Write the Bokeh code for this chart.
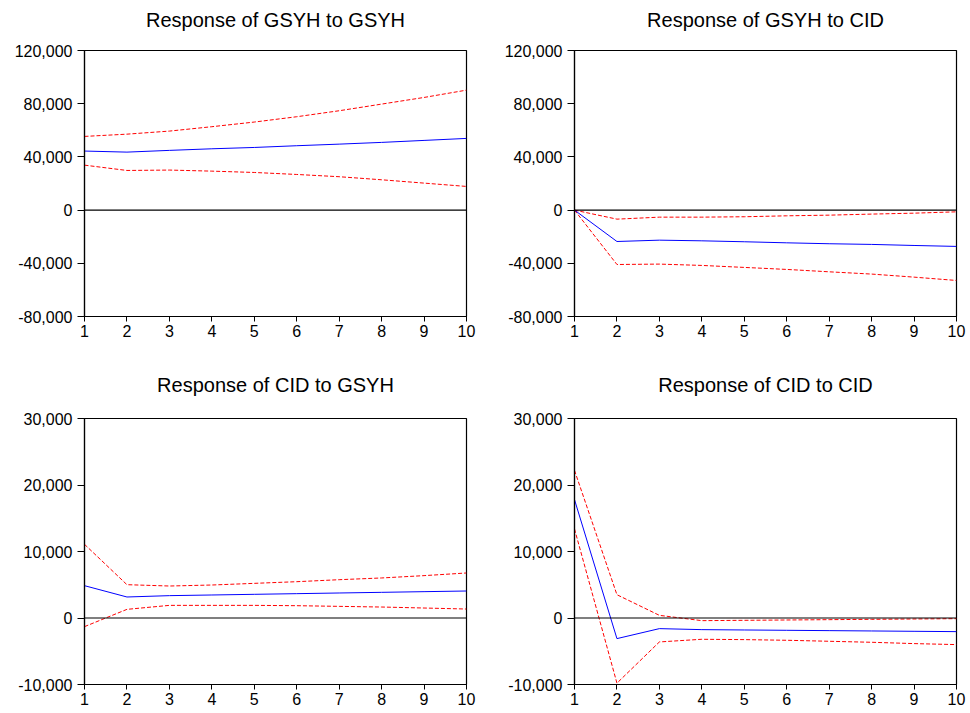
from bokeh.plotting import figure
from bokeh.layouts import column, row
from bokeh.models import Range1d, FixedTicker, NumeralTickFormatter, Span, Title
from bokeh.embed import file_html
from bokeh.resources import INLINE

periods = [1, 2, 3, 4, 5, 6, 7, 8, 9, 10]

# Response of GSYH to GSYH
gg_resp = [44400, 43600, 44900, 46100, 47100, 48400, 49600, 50900, 52400, 53900]
gg_up = [55400, 57100, 59400, 62700, 66200, 70200, 74700, 79700, 84700, 90200]
gg_lo = [33800, 29800, 30100, 29300, 28300, 26800, 25100, 22800, 20300, 17800]

# Response of GSYH to CID
gc_resp = [0, -23600, -22600, -23100, -23800, -24600, -25300, -25800, -26600, -27300]
gc_up = [0, -6800, -5300, -5300, -5000, -4300, -3800, -3000, -2300, -1300]
gc_lo = [0, -40900, -40600, -41600, -43100, -44600, -46400, -48100, -50400, -52900]

# Response of CID to GSYH
cg_resp = [4860, 3160, 3360, 3460, 3560, 3660, 3760, 3860, 3960, 4060]
cg_up = [11080, 5010, 4810, 4960, 5210, 5460, 5760, 6020, 6370, 6770]
cg_lo = [-1300, 1300, 1900, 1900, 1900, 1850, 1750, 1650, 1500, 1350]

# Response of CID to CID
cc_resp = [17800, -3100, -1600, -1750, -1800, -1850, -1900, -1950, -2000, -2050]
cc_up = [22200, 3500, 400, -400, -350, -300, -250, -200, -150, -100]
cc_lo = [13400, -9800, -3600, -3200, -3250, -3350, -3500, -3650, -3850, -4000]

titles = ["Response of GSYH to GSYH", "Response of GSYH to CID",
          "Response of CID to GSYH", "Response of CID to CID"]
ticks_top = [-80000, -40000, 0, 40000, 80000, 120000]
ticks_bot = [-10000, 0, 10000, 20000, 30000]

FONT = "Liberation Sans"


def panel(title, resp, up, lo, yr, yticks, w, h, left, right, top, bottom, gap):
    p = figure(width=w, height=h, output_backend="svg", toolbar_location=None,
               x_range=Range1d(1, 10), y_range=Range1d(*yr),
               min_border_left=left, min_border_right=right,
               min_border_top=top, min_border_bottom=bottom)
    # spacer between frame and title
    p.add_layout(Title(text=" ", text_font_size="1px", standoff=gap), "above")
    p.add_layout(Title(text=title, align="center", text_font=FONT,
                       text_font_size="20px", text_font_style="normal",
                       text_color="black", standoff=12), "above")
    p.xgrid.visible = False
    p.ygrid.visible = False
    p.outline_line_color = "black"
    p.outline_line_width = 1.2
    p.outline_line_alpha = 1
    p.background_fill_color = "white"
    p.border_fill_color = "white"

    p.xaxis.ticker = FixedTicker(ticks=periods)
    p.yaxis.ticker = FixedTicker(ticks=yticks)
    p.yaxis.formatter = NumeralTickFormatter(format="0,0")
    for ax in (p.xaxis, p.yaxis):
        ax.axis_line_color = "black"
        ax.axis_line_width = 1.2
        ax.major_tick_line_color = "black"
        ax.minor_tick_line_color = None
        ax.major_tick_in = 0
        ax.major_label_text_font = FONT
        ax.major_label_text_font_size = "16px"
        ax.major_label_text_color = "black"
    p.xaxis.major_tick_out = 5
    p.xaxis.major_label_standoff = 3
    p.yaxis.major_tick_out = 7
    p.yaxis.major_label_standoff = 5

    p.add_layout(Span(location=0, dimension="width", line_color="black", line_width=1.2))
    p.line(periods, up, line_color="#FF0000", line_width=1, line_dash="4 2")
    p.line(periods, lo, line_color="#FF0000", line_width=1, line_dash="4 2")
    p.line(periods, resp, line_color="#0000FF", line_width=1)
    return p


p1 = panel(titles[0], gg_resp, gg_up, gg_lo, (-80000, 120000), ticks_top, 485, 350, 84, 19, 50, 34, 11)
p2 = panel(titles[1], gc_resp, gc_up, gc_lo, (-80000, 120000), ticks_top, 485, 350, 89, 14, 50, 34, 11)
p3 = panel(titles[2], cg_resp, cg_up, cg_lo, (-10000, 30000), ticks_bot, 485, 363, 84, 19, 68, 29, 14)
p4 = panel(titles[3], cc_resp, cc_up, cc_lo, (-10000, 30000), ticks_bot, 485, 363, 89, 14, 68, 29, 14)

layout = column(row(p1, p2), row(p3, p4))
open("out.html", "w").write(file_html(layout, INLINE))
